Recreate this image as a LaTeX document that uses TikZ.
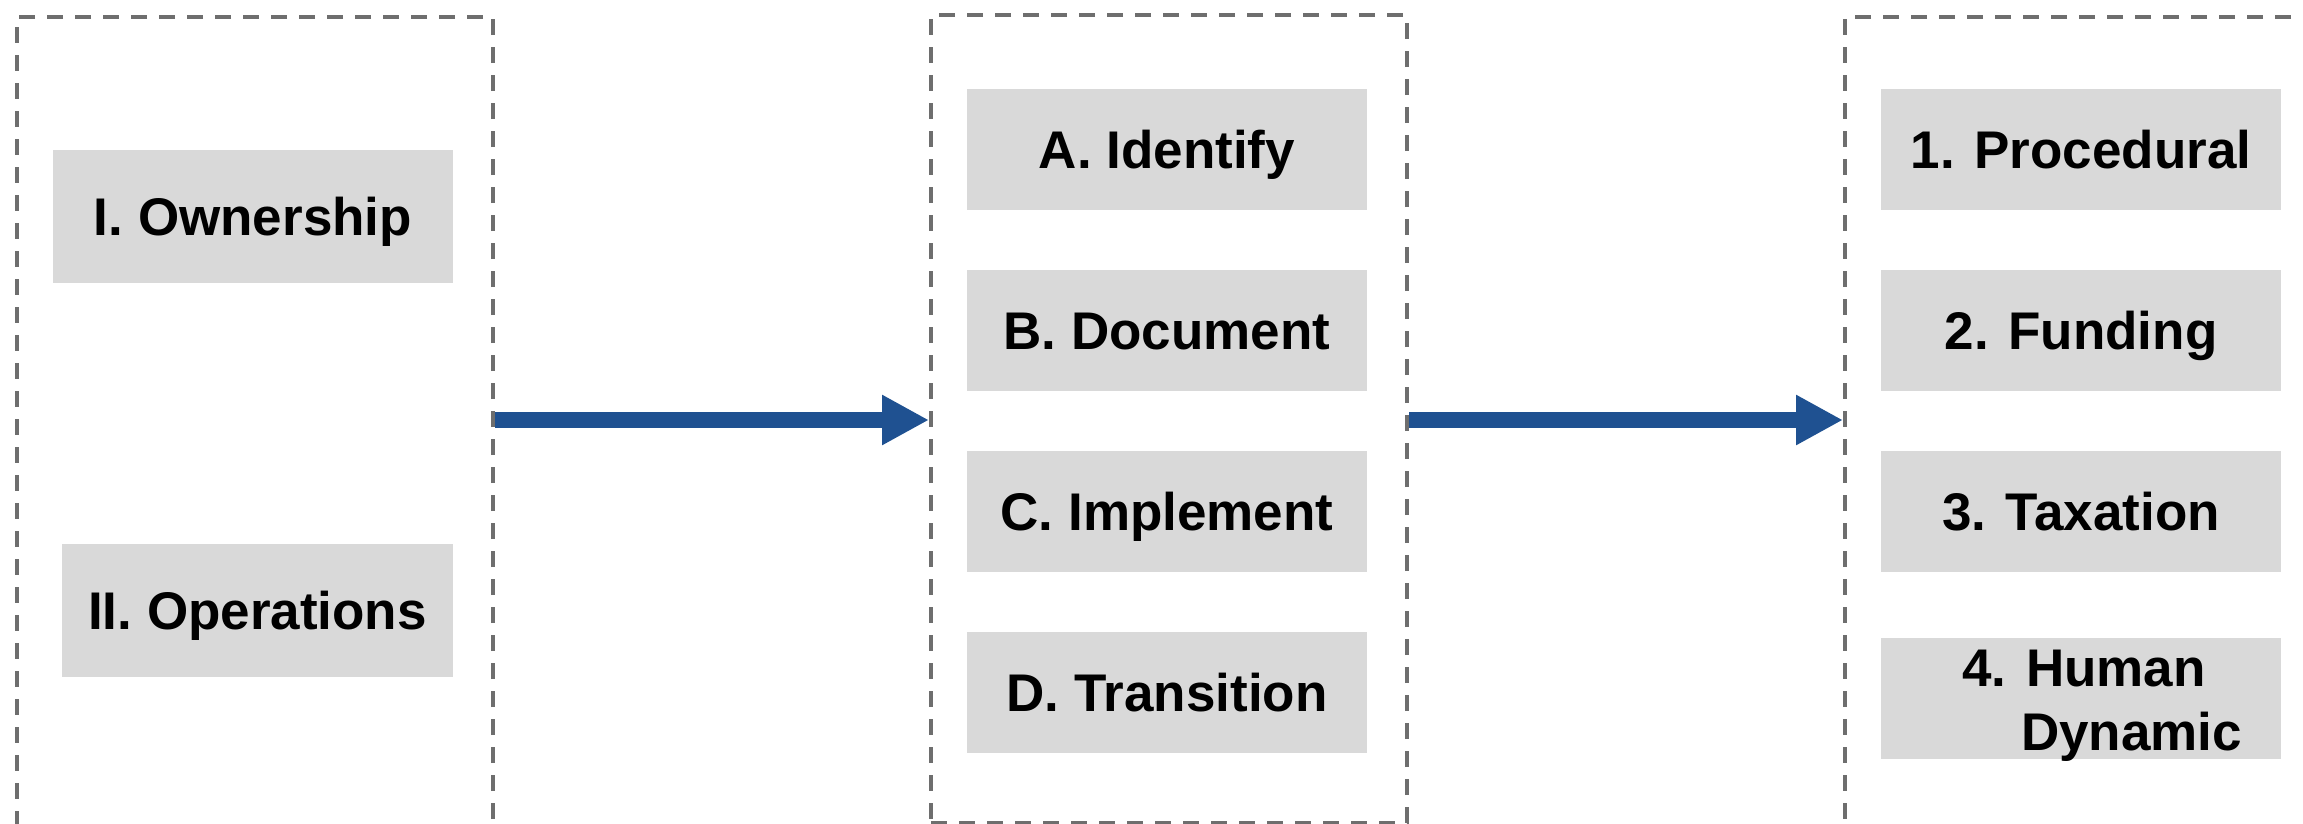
\documentclass[tikz,border=0pt]{standalone}
\usepackage{fontspec}
\setmainfont{Liberation Sans}
\usetikzlibrary{arrows.meta}
\definecolor{boxgray}{HTML}{D9D9D9}
\definecolor{framegray}{RGB}{110,110,110}
\definecolor{flowblue}{RGB}{31,81,145}
\begin{document}
\begin{tikzpicture}[x=1pt,y=-1pt,
  group/.style={draw=framegray, line width=4pt, dash pattern=on 16pt off 12pt,
    inner sep=0pt, anchor=north west},
  item/.style={fill=boxgray, inner sep=0pt, minimum width=400pt, minimum height=121pt,
    font=\fontsize{53}{64}\selectfont\bfseries, text height=38pt, text depth=0pt},
  label/.style={inner sep=0pt, anchor=base west, font=\fontsize{53}{64}\selectfont\bfseries},
  flowarrow/.style={draw=flowblue, line width=16pt, -{Triangle[length=47pt,width=47pt]}}]
  \useasboundingbox (0,0) rectangle (2303,823);

  % dashed group frames
  \node[group, minimum width=476pt, minimum height=830pt] (left) at (15,15) {};
  \node[group, minimum width=476pt, minimum height=808pt] (mid) at (929,13) {};
  \node[group, minimum width=620pt, minimum height=830pt] (right) at (1843,15) {};

  % first column
  \node[item, minimum height=133pt] (own) at (253,216.5) {I. Ownership};
  \node[item, minimum width=391pt, minimum height=133pt] (ops) at (257.5,610.5) {II. Operations};

  % second column
  \node[item] (idf) at (1167,149.5) {A. Identify};
  \node[item] (doc) at (1167,330.5) {B. Document};
  \node[item] (imp) at (1167,511.5) {C. Implement};
  \node[item] (trn) at (1167,692.5) {D. Transition};

  % third column
  \node[item] (prc) at (2081,149.5) {1. Procedural};
  \node[item] (fnd) at (2081,330.5) {2. Funding};
  \node[item] (tax) at (2081,511.5) {3. Taxation};
  \node[item] (hum) at (2081,698.5) {};
  \node[label] (humA) at (1962,686) {4. Human};
  \node[label] (humB) at (2021,750) {Dynamic};

  % flow arrows between the groups
  \coordinate (ay) at (0,420);
  \draw[flowarrow] (left.east |- ay) -- (mid.west |- ay);
  \draw[flowarrow] (mid.east |- ay) -- (right.west |- ay);
\end{tikzpicture}
\end{document}
